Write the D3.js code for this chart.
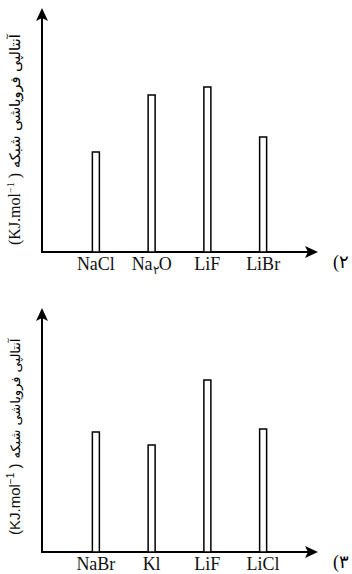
<!DOCTYPE html>
<html>
<head>
<meta charset="utf-8">
<script src="https://cdn.jsdelivr.net/npm/d3@7"></script>
<style>
  body { margin: 0; background: #fff; }
  svg { display: block; }
</style>
</head>
<body>
<div id="vis"></div>
<script>
// chart data (values are relative heights, no scale printed)
const topCategories = ["NaCl", "Na2O", "LiF", "LiBr"];
const topValues = [100, 157, 165, 115];
const bottomCategories = ["NaBr", "Kl", "LiF", "LiCl"];
const bottomValues = [120, 107, 172, 123];
const panelLabels = ["(۲", "(۳"];
const yTitleFa = "آنتالپی فروپاشی شبکه";

const width = 352;
const height = 574;

const svg = d3.select("#vis").append("svg")
  .attr("width", width)
  .attr("height", height);

// draws one of the two small bar charts, offset vertically by the group transform
function barChart(g, categories, values, opts) {
  const baseline = 252;
  const axisX = 42;

  const x = d3.scaleBand()
    .domain(categories)
    .range([68, 291]);

  const y = d3.scaleLinear()
    .domain([0, 200])
    .range([baseline, baseline - 200]);

  // axes lines
  g.append("line")
    .attr("x1", axisX).attr("x2", axisX)
    .attr("y1", baseline + 1).attr("y2", 12)
    .attr("stroke", "#000").attr("stroke-width", 2);
  g.append("line")
    .attr("x1", axisX - 1).attr("x2", 313)
    .attr("y1", baseline).attr("y2", baseline)
    .attr("stroke", "#000").attr("stroke-width", 2);

  // arrow heads
  const arrow = "M0,0 L-6,13 L0,10 L6,13 Z";
  g.append("path").attr("d", arrow)
    .attr("transform", `translate(${axisX},8)`);
  g.append("path").attr("d", arrow)
    .attr("transform", `translate(318,${baseline}) rotate(90)`);

  // bars
  const barW = 7;
  g.selectAll(".bar")
    .data(categories)
    .enter()
    .append("rect")
    .attr("class", "bar")
    .attr("x", d => x(d) + x.bandwidth() / 2 - barW / 2)
    .attr("y", (d, i) => y(values[i]))
    .attr("width", barW)
    .attr("height", (d, i) => baseline - y(values[i]))
    .attr("fill", "#fff")
    .attr("stroke", "#000")
    .attr("stroke-width", 1.5);

  // category labels
  const labels = g.selectAll(".cat")
    .data(categories)
    .enter()
    .append("text")
    .attr("class", "cat")
    .attr("x", d => x(d) + x.bandwidth() / 2)
    .attr("y", baseline + 18)
    .attr("text-anchor", "middle")
    .style("font-family", "'Liberation Serif', 'Times New Roman', serif")
    .style("font-size", "18px")
    .attr("fill", "#111");

  labels.each(function(d) {
    const t = d3.select(this);
    if (d === "Na2O") {
      t.append("tspan").text("Na");
      t.append("tspan").text("۲").attr("dy", 4).style("font-size", "12px");
      t.append("tspan").text("O").attr("dy", -4);
    } else {
      t.text(d);
    }
  });

  // panel number at the right edge
  g.append("text")
    .attr("x", 333)
    .attr("y", baseline + 16)
    .style("font-family", "'Liberation Serif', serif")
    .style("font-size", "18px")
    .attr("direction", "ltr")
    .attr("unicode-bidi", "bidi-override")
    .text(opts.panel);

  // rotated y title: unit part at the bottom, persian words above it
  const unit = g.append("text")
    .attr("transform", `translate(20,${opts.titleBottom}) rotate(-90)`)
    .style("font-family", opts.unitFont)
    .style("font-size", opts.unitSize)
    .attr("fill", "#111");
  unit.append("tspan").text("(KJ.mol");
  unit.append("tspan").text("−1").attr("dy", -6).style("font-size", "10px");
  unit.append("tspan").text(" )").attr("dy", 6);

  const unitLen = unit.node().getComputedTextLength();

  g.append("text")
    .attr("transform", `translate(20,${opts.titleBottom - unitLen - 5}) rotate(-90)`)
    .style("font-family", "'DejaVu Sans', sans-serif")
    .style("font-size", opts.faSize)
    .attr("fill", "#000")
    .text(yTitleFa);
}

barChart(svg.append("g"), topCategories, topValues, {
  panel: panelLabels[0],
  titleBottom: 245,
  unitFont: "'Liberation Serif', serif",
  unitSize: "16px",
  faSize: "14.5px"
});

barChart(svg.append("g").attr("transform", "translate(0,300)"), bottomCategories, bottomValues, {
  panel: panelLabels[1],
  titleBottom: 235,
  unitFont: "'Liberation Sans', Arial, sans-serif",
  unitSize: "15px",
  faSize: "13px"
});
</script>
</body>
</html>
